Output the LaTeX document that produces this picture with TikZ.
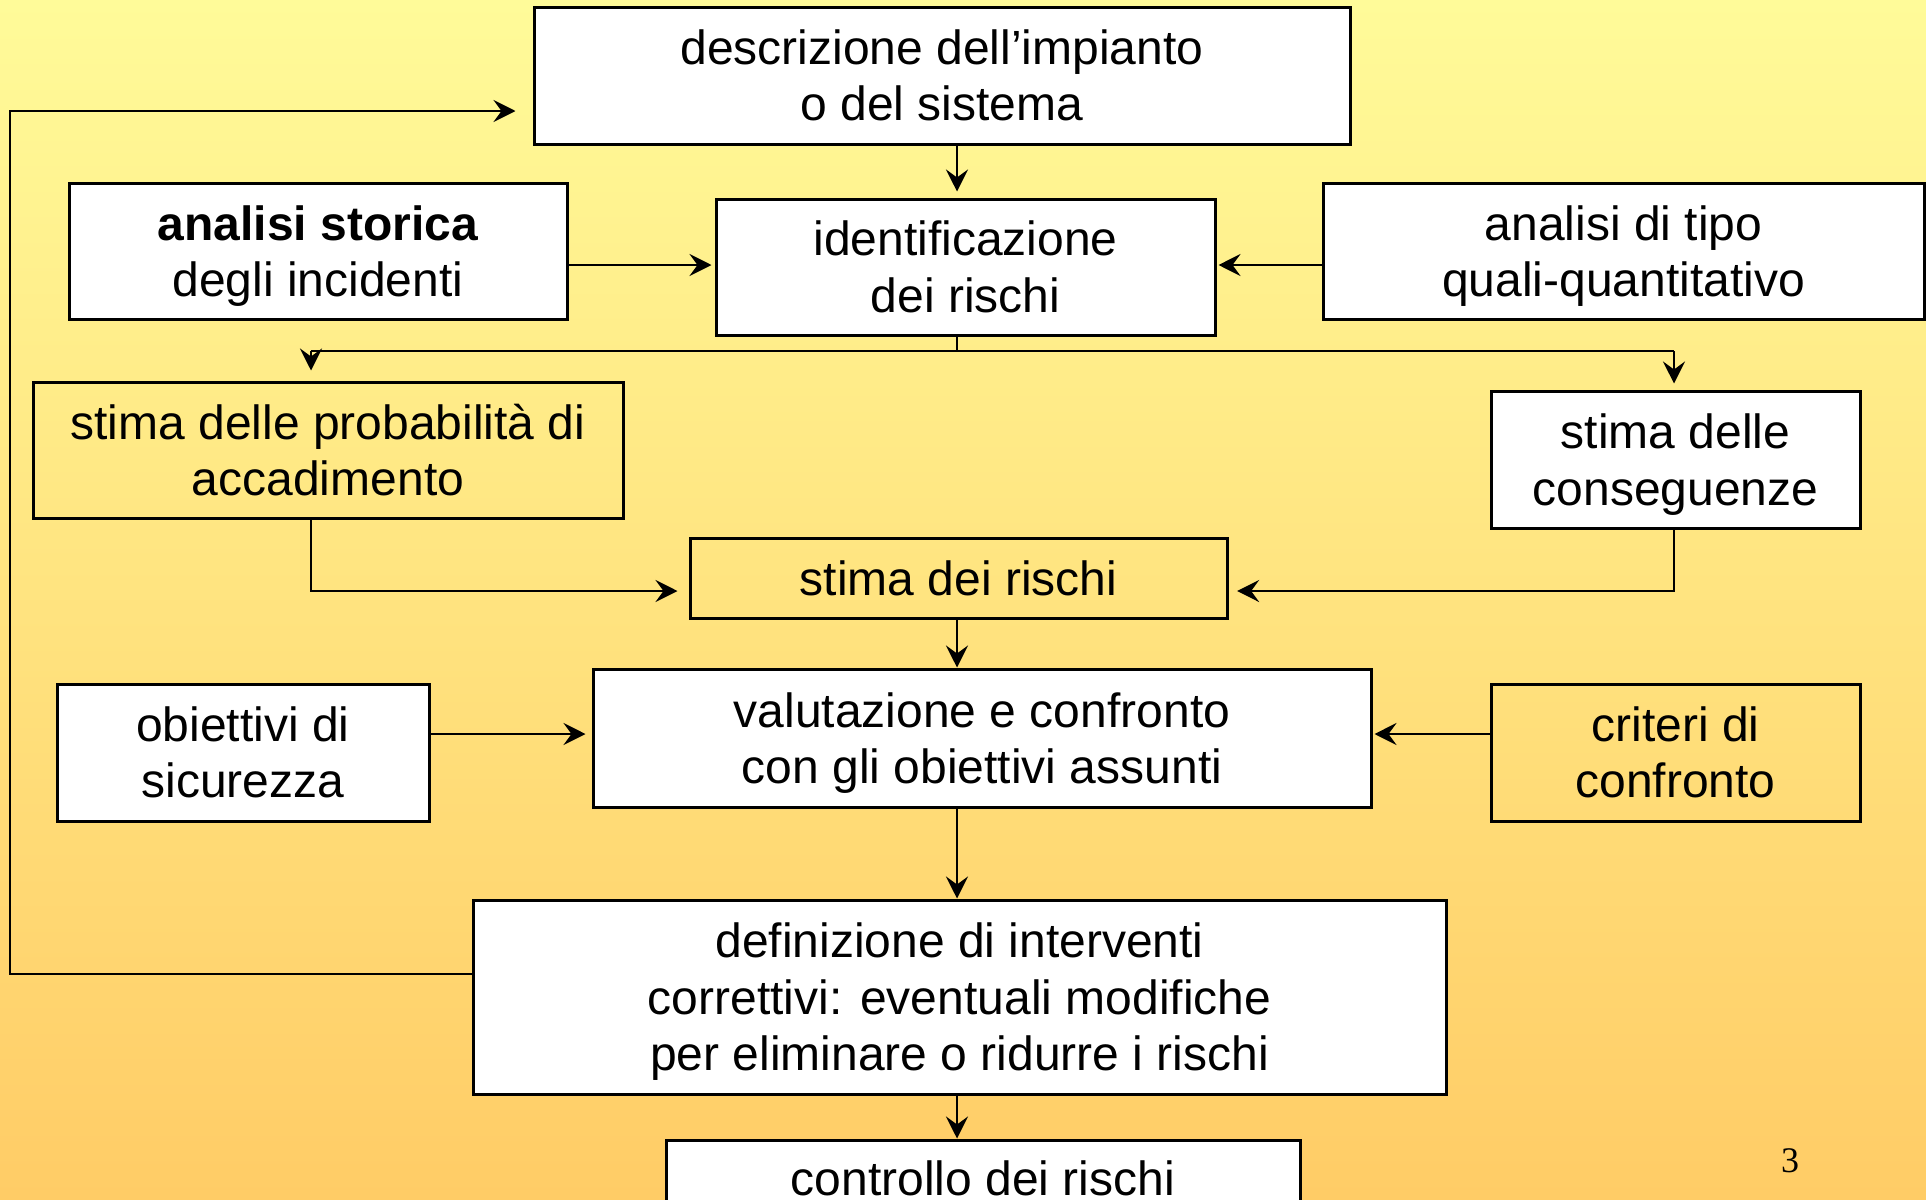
\documentclass[tikz,border=0pt]{standalone}
\usepackage{fontspec}
\setmainfont{Liberation Sans}
\newfontfamily\pagenumfont{Liberation Serif}
\usetikzlibrary{arrows.meta}
\definecolor{bgtop}{RGB}{255,251,153}
\definecolor{bgbot}{RGB}{255,204,102}
\newcommand\nodesc[1]{\raisebox{0pt}[\height][0pt]{#1}}
\begin{document}
\begin{tikzpicture}[x=0.5pt,y=-0.5pt,
  box/.style={draw=black, line width=1.5pt, fill=white, inner sep=0pt, align=center,
    font=\fontsize{24}{28.25}\selectfont},
  clearbox/.style={box, fill=none},
  arr/.style={line width=1.4pt, -{Stealth[length=11pt,width=11pt,inset=4pt]}},
  conn/.style={line width=1.4pt}]
\clip (0,0) rectangle (1926,1199);
\shade[top color=bgtop, bottom color=bgbot] (0,0) rectangle (1926,1199);

% boxes
\node[box, minimum width=408pt, minimum height=68.5pt] (desc) at (942,75.5) {descrizione dell’impianto\\o del sistema};
\node[box, minimum width=249pt, minimum height=68pt] (stor) at (318,251) {\textbf{analisi storica}\\\nodesc{degli incidenti}};
\node[box, minimum width=249.5pt, minimum height=68pt] (ident) at (965.5,267) {identificazione\\dei rischi};
\node[box, minimum width=300.5pt, minimum height=68pt] (tipo) at (1623.5,251) {analisi di tipo\\\nodesc{quali-quantitativo}};
\node[clearbox, minimum width=295pt, minimum height=68pt] (prob) at (328,450) {stima delle probabilità di\\accadimento};
\node[box, minimum width=184.5pt, minimum height=68.5pt] (cons) at (1675.5,459.5) {stima delle\\\nodesc{conseguenze}};
\node[clearbox, minimum width=268.5pt, minimum height=40pt] (rischi) at (958.5,578) {stima dei rischi};
\node[box, minimum width=186pt, minimum height=68.5pt] (obiet) at (243,752.5) {obiettivi di\\sicurezza};
\node[box, minimum width=389pt, minimum height=69pt] (valut) at (982,738) {valutazione e confronto\\\nodesc{con gli obiettivi assunti}};
\node[clearbox, minimum width=184.5pt, minimum height=68.5pt] (crit) at (1675.5,752.5) {criteri di\\confronto};
\node[box, minimum width=486.5pt, minimum height=97pt] (defin) at (959.5,997) {definizione di interventi\\correttivi: eventuali modifiche\\\nodesc{per eliminare o ridurre i rischi}};
\node[box, minimum width=317pt, minimum height=38pt] (contr) at (983,1178) {controllo dei rischi};
\node[font=\pagenumfont\fontsize{18}{20}\selectfont] (pg) at (1790,1161) {3};

% helper coordinates
\coordinate (sp) at (957,0);
\coordinate (br) at (957,351);
\coordinate (pl) at (311,351);
\coordinate (pr) at (1674,351);
\coordinate (hy) at (0,265);
\coordinate (ry) at (0,591);
\coordinate (oy) at (0,734);
\coordinate (lx) at (10,0);
\coordinate (ly) at (0,974);
\coordinate (dy) at (0,111);

% connectors
\draw[arr, shorten >=3pt] (desc.south -| sp) -- (ident.north -| sp);
\draw[arr, shorten >=1.5pt] (stor.east |- hy) -- (ident.west |- hy);
\draw[arr, shorten >=1pt] (tipo.west |- hy) -- (ident.east |- hy);
\draw[conn] (ident.south -| sp) -- (br);
\draw[conn] (pl) -- (pr);
\draw[arr, shorten >=5pt] (pl) -- (prob.north -| pl);
\draw[arr, shorten >=3pt] (pr) -- (cons.north -| pr);
\draw[arr, shorten >=5.5pt] (prob.south -| pl) -- (pl |- ry) -- (rischi.west |- ry);
\draw[arr, shorten >=4.3pt] (cons.south -| pr) -- (pr |- ry) -- (rischi.east |- ry);
\draw[arr] (rischi.south -| sp) -- (valut.north -| sp);
\draw[arr, shorten >=3pt] (obiet.east |- oy) -- (valut.west |- oy);
\draw[arr, shorten >=1pt] (crit.west |- oy) -- (valut.east |- oy);
\draw[arr] (valut.south -| sp) -- (defin.north -| sp);
\draw[arr] (defin.south -| sp) -- (contr.north -| sp);
\draw[arr, shorten >=8.5pt] (defin.west |- ly) -- (lx |- ly) -- (lx |- dy) -- (desc.west |- dy);
\end{tikzpicture}
\end{document}
